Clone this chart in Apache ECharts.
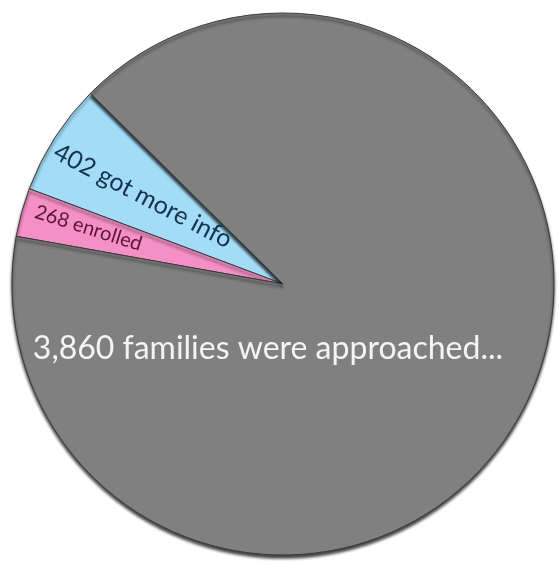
<!DOCTYPE html>
<html>
<head>
<meta charset="utf-8">
<script src="https://cdn.jsdelivr.net/npm/echarts@6/dist/echarts.min.js"></script>
<style>
  html, body { margin: 0; padding: 0; background: #fff; }
  #main { width: 559px; height: 564px; }
</style>
</head>
<body>
<div id="main"></div>
<script>
// slice order: counter-clockwise from the upper edge of the blue slice
var labels = ['402 got more info', '268 enrolled', '3,860 families were approached...'];
// share of the circle (percent)
var shares = [6.7, 2.9, 90.4];
var colors = ['#a3dcf7', '#f590c6', '#808080'];
var textColors = ['#17324f', '#5b1535', '#f4f4f4'];
var fontSizes = [25, 20, 32];
var labelRotate = [-27.5, -17.5, 0];
// nudge of each label away from the default inside spot
var labelShift = [[-27, -1], [-64, 0], [-138, 1]];

var chartDom = document.getElementById('main');
var myChart = echarts.init(chartDom);
var option;

var pieData = labels.map(function (name, i) {
    return {
        name: name,
        value: shares[i],
        itemStyle: { color: colors[i] },
        label: {
            color: textColors[i],
            fontSize: fontSizes[i],
            rotate: labelRotate[i]
        }
    };
});

option = {
    animation: false,
    series: [
        {
            type: 'pie',
            center: [283, 284],
            radius: 271,
            startAngle: 135.3,
            clockwise: false,
            avoidLabelOverlap: false,
            itemStyle: {
                borderColor: '#3a3a3a',
                borderWidth: 1,
                shadowColor: 'rgba(0,0,0,0.75)',
                shadowBlur: 3,
                shadowOffsetY: 3
            },
            label: {
                show: true,
                position: 'inside',
                fontFamily: 'Lato',
                formatter: '{b}'
            },
            labelLine: { show: false },
            labelLayout: function (params) {
                var s = labelShift[params.dataIndex];
                return { dx: s[0], dy: s[1] };
            },
            emphasis: { disabled: true },
            data: pieData
        }
    ]
};

option && myChart.setOption(option);
</script>
</body>
</html>
